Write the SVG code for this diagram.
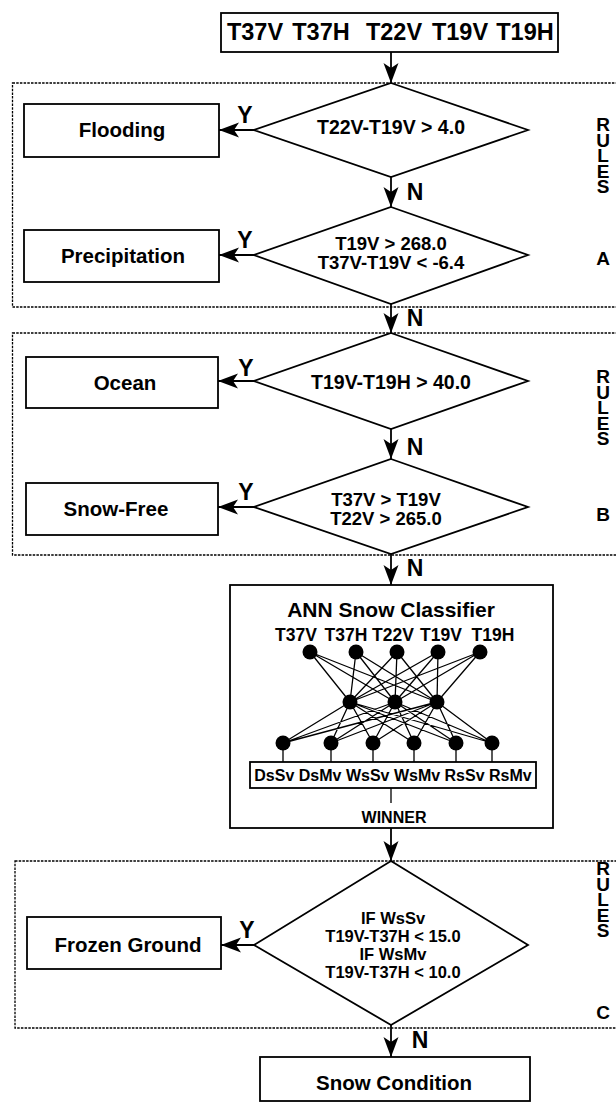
<svg xmlns="http://www.w3.org/2000/svg" width="616" height="1104" viewBox="0 0 616 1104">
<style>
text{font-family:"Liberation Sans",Arial,Helvetica,sans-serif;font-weight:bold;fill:#000}
.box{fill:#fff;stroke:#000;stroke-width:1.8}
.dia{fill:#fff;stroke:#000;stroke-width:1.8}
.dash{fill:none;stroke:#000;stroke-width:1.3;stroke-dasharray:2.5 1.2}
.con{fill:none;stroke:#000;stroke-width:1.8}
.net{fill:none;stroke:#000;stroke-width:1.3}
.lbl{font-size:20.5px;text-anchor:middle}
.cond{font-size:19.5px;text-anchor:middle}
.cond4{font-size:18.5px;text-anchor:middle}
.cond5{font-size:16.5px;text-anchor:middle}
.yn{font-size:23px;text-anchor:middle}
.rule{font-size:19px;text-anchor:middle}
.vert{font-size:19px;writing-mode:vertical-rl;text-orientation:upright;letter-spacing:-5.5px}
.in{font-size:23.5px;text-anchor:middle}
.small{font-size:17.5px;text-anchor:middle}
</style>
<defs>
<marker id="ah" markerUnits="userSpaceOnUse" markerWidth="22" markerHeight="16" refX="20" refY="7.5" orient="auto">
<path d="M0,0 L20,7.5 L0,15 L5,7.5 Z" fill="#000"/>
</marker>
</defs>
<rect width="616" height="1104" fill="#fff"/>

<g id="rules-frames">
<rect class="dash" x="12.5" y="83" width="620" height="224"/>
<rect class="dash" x="12.5" y="333" width="620" height="222"/>
<rect class="dash" x="15" y="861" width="620" height="167"/>
</g>

<g id="inputs">
<rect class="box" x="221" y="13" width="337" height="39"/>
<text class="in" x="255" y="39.5">T37V</text>
<text class="in" x="321" y="39.5">T37H</text>
<text class="in" x="394" y="39.5">T22V</text>
<text class="in" x="460" y="39.5">T19V</text>
<text class="in" x="525" y="39.5">T19H</text>
</g>

<g id="rules-a-label">
<text class="vert" x="603" y="114">RULES</text>
<text class="rule" x="603" y="264.5">A</text>
</g>
<g id="rules-b-label">
<text class="vert" x="603" y="366">RULES</text>
<text class="rule" x="603" y="520.5">B</text>
</g>
<g id="rules-c-label">
<text class="vert" x="603" y="858">RULES</text>
<text class="rule" x="603" y="1018.5">C</text>
</g>

<g id="d1">
<polygon class="dia" points="391,83 528,130 391,177 254,130"/>
<text class="cond" x="391" y="134">T22V-T19V &gt; 4.0</text>
</g>
<g id="flooding">
<rect class="box" x="24" y="104" width="195" height="53"/>
<text class="lbl" x="122" y="137">Flooding</text>
</g>
<g id="d2">
<polygon class="dia" points="391,207 528,255 391,304 254,255"/>
<text class="cond4" x="391" y="249.5">T19V &gt; 268.0</text>
<text class="cond4" x="391" y="269">T37V-T19V &lt; -6.4</text>
</g>
<g id="precipitation">
<rect class="box" x="24" y="230" width="195" height="52"/>
<text class="lbl" x="123" y="263">Precipitation</text>
</g>

<g id="d3">
<polygon class="dia" points="391,333 528,381 391,429 254,381"/>
<text class="cond" x="391" y="389">T19V-T19H &gt; 40.0</text>
</g>
<g id="ocean">
<rect class="box" x="26" y="357" width="192" height="51"/>
<text class="lbl" x="125" y="390">Ocean</text>
</g>
<g id="d4">
<polygon class="dia" points="391,459 528,507 391,554 254,507"/>
<text class="cond4" x="386" y="506">T37V &gt; T19V</text>
<text class="cond4" x="386" y="525">T22V &gt; 265.0</text>
</g>
<g id="snowfree">
<rect class="box" x="26" y="483" width="192" height="52"/>
<text class="lbl" x="116" y="516">Snow-Free</text>
</g>

<g id="ann">
<rect class="box" x="230" y="585" width="323" height="243"/>
<text x="391" y="616.5" font-size="21" text-anchor="middle">ANN Snow Classifier</text>
<text class="small" x="296" y="641">T37V</text>
<text class="small" x="346" y="641">T37H</text>
<text class="small" x="393" y="641">T22V</text>
<text class="small" x="441" y="641">T19V</text>
<text class="small" x="493" y="641">T19H</text>
<g class="net">
<path d="M310,652L350,702M310,652L395,702M310,652L437,702M356,652L350,702M356,652L395,702M356,652L437,702M397,652L350,702M397,652L395,702M397,652L437,702M438,652L350,702M438,652L395,702M438,652L437,702M480,652L350,702M480,652L395,702M480,652L437,702"/>
<path d="M350,702L283,743M350,702L331,743M350,702L373,743M350,702L414,743M350,702L456,743M350,702L492,743M395,702L283,743M395,702L331,743M395,702L373,743M395,702L414,743M395,702L456,743M395,702L492,743M437,702L283,743M437,702L331,743M437,702L373,743M437,702L414,743M437,702L456,743M437,702L492,743"/>
<path d="M283,743V762M331,743V762M373,743V762M414,743V762M456,743V762M492,743V762M391,788V803"/>
</g>
<g fill="#000">
<circle cx="310" cy="652" r="7.5"/><circle cx="356" cy="652" r="7.5"/><circle cx="397" cy="652" r="7.5"/><circle cx="438" cy="652" r="7.5"/><circle cx="480" cy="652" r="7.5"/>
<circle cx="350" cy="702" r="7.5"/><circle cx="395" cy="702" r="7.5"/><circle cx="437" cy="702" r="7.5"/>
<circle cx="283" cy="743" r="7.5"/><circle cx="331" cy="743" r="7.5"/><circle cx="373" cy="743" r="7.5"/><circle cx="414" cy="743" r="7.5"/><circle cx="456" cy="743" r="7.5"/><circle cx="492" cy="743" r="7.5"/>
</g>
<rect class="box" x="250" y="762" width="286" height="26"/>
<text x="393" y="781" font-size="16" text-anchor="middle">DsSv DsMv WsSv WsMv RsSv RsMv</text>
<text x="394" y="823" font-size="16" text-anchor="middle">WINNER</text>
</g>

<g id="d5">
<polygon class="dia" points="391,861 528,945 391,1025 254,945"/>
<text class="cond5" x="393" y="924">IF WsSv</text>
<text class="cond5" x="393" y="942">T19V-T37H &lt; 15.0</text>
<text class="cond5" x="393" y="960">IF WsMv</text>
<text class="cond5" x="393" y="978">T19V-T37H &lt; 10.0</text>
</g>
<g id="frozen">
<rect class="box" x="27" y="917" width="194" height="52"/>
<text class="lbl" x="128" y="952">Frozen Ground</text>
</g>
<g id="snowcondition">
<rect class="box" x="260" y="1057" width="270" height="44"/>
<text x="394" y="1090" font-size="20.5" text-anchor="middle">Snow Condition</text>
</g>

<g id="connectors">
<path class="con" d="M391,52V83" marker-end="url(#ah)"/>
<path class="con" d="M254,130H219" marker-end="url(#ah)"/>
<path class="con" d="M391,177V207" marker-end="url(#ah)"/>
<path class="con" d="M254,255H219" marker-end="url(#ah)"/>
<path class="con" d="M391,304V333" marker-end="url(#ah)"/>
<path class="con" d="M254,381H218" marker-end="url(#ah)"/>
<path class="con" d="M391,429V459" marker-end="url(#ah)"/>
<path class="con" d="M254,507H218" marker-end="url(#ah)"/>
<path class="con" d="M391,554V585" marker-end="url(#ah)"/>
<path class="con" d="M391,828V861" marker-end="url(#ah)"/>
<path class="con" d="M254,945H221" marker-end="url(#ah)"/>
<path class="con" d="M391,1025V1057" marker-end="url(#ah)"/>
<text class="yn" x="245" y="123">Y</text>
<text class="yn" x="415" y="200">N</text>
<text class="yn" x="245" y="248">Y</text>
<text class="yn" x="415" y="326">N</text>
<text class="yn" x="246" y="376">Y</text>
<text class="yn" x="415" y="455">N</text>
<text class="yn" x="246" y="500">Y</text>
<text class="yn" x="415" y="576">N</text>
<text class="yn" x="247" y="938">Y</text>
<text class="yn" x="420" y="1048">N</text>
</g>
</svg>
